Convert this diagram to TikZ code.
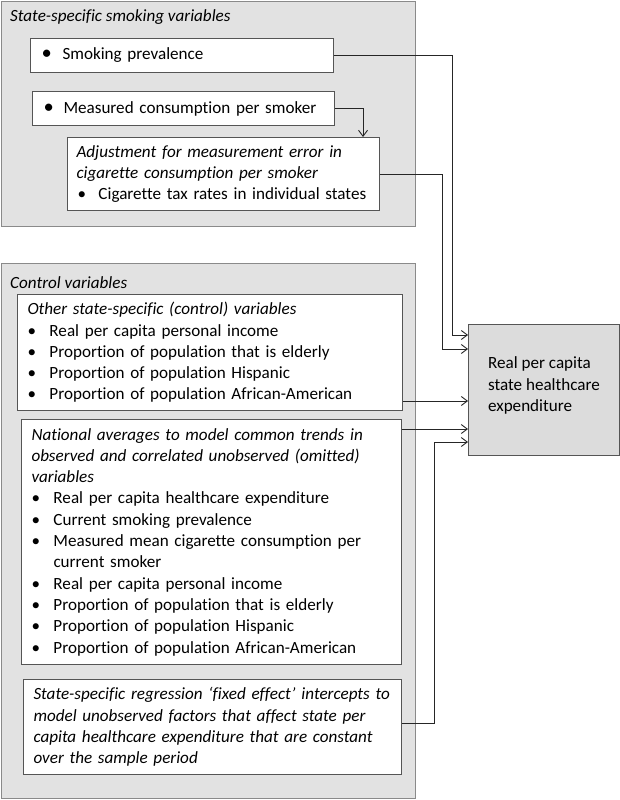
\documentclass[tikz,border=0pt]{standalone}
\usepackage{fontspec}
\setmainfont{Carlito}[Ligatures=NoCommon]
\usetikzlibrary{arrows.meta,calc,positioning}
\definecolor{panelfill}{HTML}{E2E2E2}
\definecolor{panelline}{HTML}{8A8A8A}
\definecolor{boxline}{HTML}{555555}
\definecolor{tgtfill}{HTML}{DCDCDC}
\newcommand{\bul}{\makebox[22pt][l]{\textbullet}}
\newcommand{\bigbul}[1]{\makebox[#1][l]{\hspace{1pt}\scalebox{1.2}{\textbullet}}}
\newcommand{\il}[1]{\mbox{\itshape #1}}
\newcommand{\bl}[1]{\mbox{\bul #1}}
\newcommand{\cl}[1]{\mbox{\hspace*{22pt}#1}}
\tikzset{
  basefont/.style={font=\fontsize{17.1}{21.3}\selectfont},
  panel/.style={draw=panelline, line width=1.4pt, fill=panelfill, anchor=north west, inner sep=0pt},
  ptitle/.style={anchor=west, inner sep=0pt, font=\fontsize{17.1}{21.3}\selectfont\itshape},
  varbox/.style={basefont, draw=boxline, line width=1pt, fill=white, anchor=north west, inner xsep=10pt, inner ysep=0pt, align=left},
  tgtbox/.style={basefont, draw=boxline, line width=1pt, fill=tgtfill, anchor=north west, inner sep=0pt, align=left},
  conn/.style={draw=black!85, line width=0.9pt},
  arr/.style={conn, -{Straight Barb[length=6pt,width=9pt,line width=0.9pt]}}
}
\begin{document}
\begin{tikzpicture}[x=1pt,y=-1pt]
\useasboundingbox (0,0) rectangle (620,800);
% panels
\node[panel, minimum width=414pt, minimum height=225pt] (p1) at (0.7,0.7) {};
\node[ptitle] (p1t) at (10,17) {State-specific smoking variables};
\node[panel, minimum width=414pt, minimum height=535pt] (p2) at (0.7,263) {};
\node[ptitle] (p2t) at (10,283) {Control variables};
% smoking boxes
\node[varbox, minimum width=303pt, minimum height=34pt, text width=283pt] (smk) at (30,38) {\mbox{\bigbul{22pt}Smoking prevalence}};
\node[varbox, minimum width=302pt, minimum height=34pt, text width=282pt] (meas) at (32,91) {\mbox{\bigbul{21pt}Measured consumption per smoker}};
\node[varbox, inner xsep=9pt, minimum width=312pt, minimum height=73pt, text width=294pt] (adj) at (67,137)
  {\il{Adjustment for measurement error in}\\
   \il{cigarette consumption per smoker}\\
   \mbox{\makebox[22pt][l]{\hspace{1pt}\textbullet}Cigarette tax rates in individual states}};
% control boxes
\node[varbox, minimum width=385pt, minimum height=116pt, text width=365pt] (oth) at (17,294)
  {\il{Other state-specific (control) variables}\\
   \bl{Real per capita personal income}\\
   \bl{Proportion of population that is elderly}\\
   \bl{Proportion of population Hispanic}\\
   \bl{Proportion of population African-American}};
\node[varbox, minimum width=380pt, minimum height=245pt, text width=360pt] (nat) at (21,419)
  {\il{National averages to model common trends in}\\
   \il{observed and correlated unobserved (omitted)}\\
   \il{variables}\\
   \bl{Real per capita healthcare expenditure}\\
   \bl{Current smoking prevalence}\\
   \bl{Measured mean cigarette consumption per}\\
   \cl{current smoker}\\
   \bl{Real per capita personal income}\\
   \bl{Proportion of population that is elderly}\\
   \bl{Proportion of population Hispanic}\\
   \bl{Proportion of population African-American}};
\node[varbox, minimum width=378pt, minimum height=95pt, text width=358pt] (fix) at (23,679)
  {\il{State-specific regression ‘fixed effect’ intercepts to}\\
   \il{model unobserved factors that affect state per}\\
   \il{capita healthcare expenditure that are constant}\\
   \il{over the sample period}};
% target
\node[tgtbox, minimum width=151pt, minimum height=131pt] (tgt) at (468,324)
  {Real per capita\\ state healthcare\\ expenditure\\[-10pt]\rule{0pt}{8pt}};
% connectors
\coordinate (a1) at (452,335);
\draw[arr] (smk.east) -| (a1) -- (a1 -| tgt.west);
\draw[arr] (meas.east) -| ($(adj.north east)+(-17,0)$);
\coordinate (a3) at (442,349);
\draw[arr] (adj.east) -| (a3) -- (a3 -| tgt.west);
\coordinate (o1) at ($(oth.south east)+(0,-10)$);
\draw[arr] (o1) -- (o1 -| tgt.west);
\coordinate (n1) at ($(nat.north east)+(0,10)$);
\draw[arr] (n1) -- (n1 -| tgt.west);
\coordinate (a6) at (434,442);
\draw[arr] ($(fix.east)+(0,-4)$) -| (a6) -- (a6 -| tgt.west);
\end{tikzpicture}
\end{document}
